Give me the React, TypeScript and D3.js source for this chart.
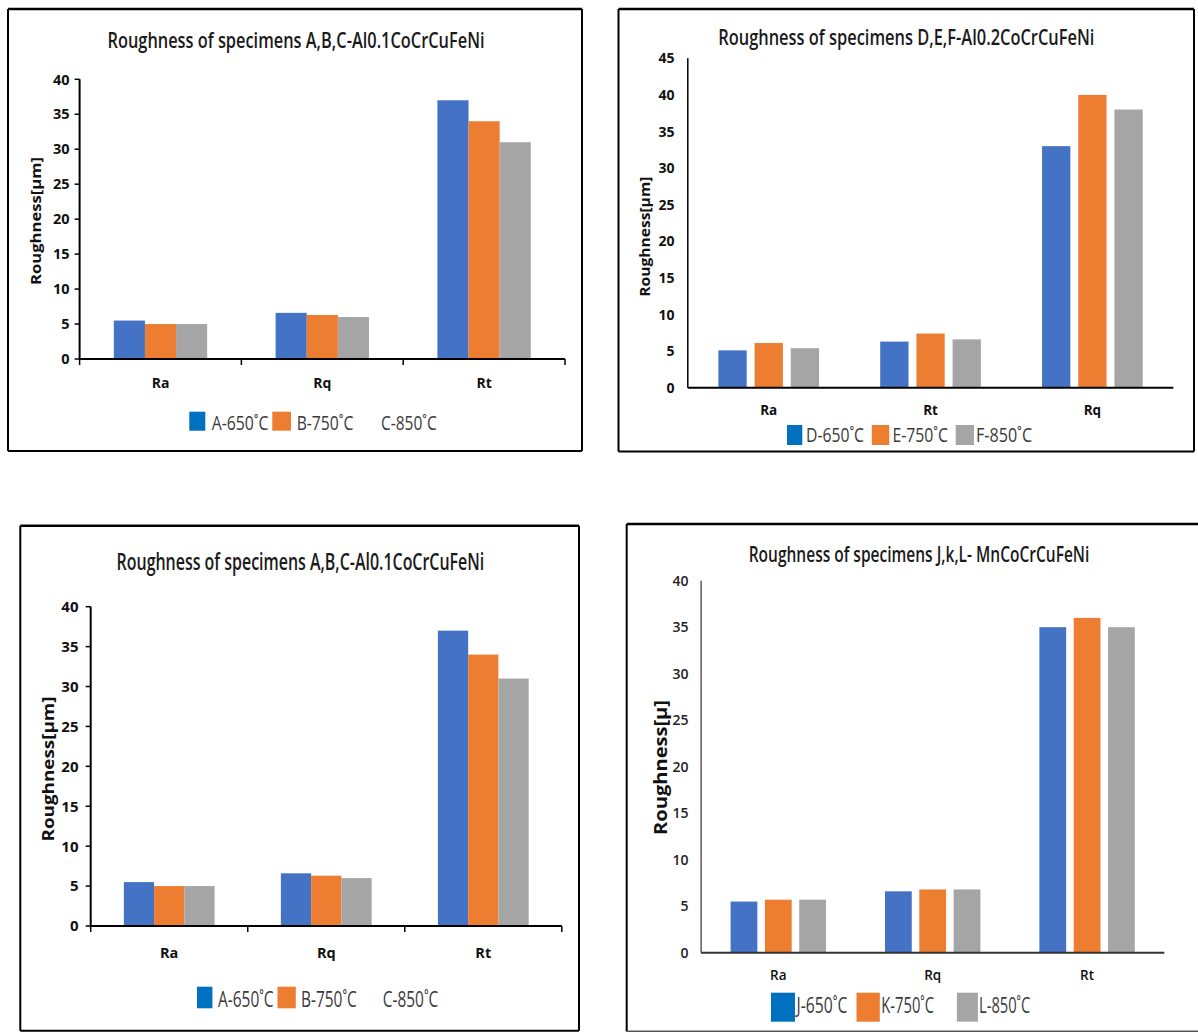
import React, { useLayoutEffect, useRef, useState } from 'react';
import * as d3 from 'd3';

// ---------- data ----------
const categoriesABC = ['Ra', 'Rq', 'Rt'];
const seriesABC = ['A-650˚C', 'B-750˚C', 'C-850˚C'];
const valuesA = [5.5, 6.6, 37];
const valuesB = [5.0, 6.3, 34];
const valuesC = [5.0, 6.0, 31];

const categoriesDEF = ['Ra', 'Rt', 'Rq'];
const seriesDEF = ['D-650˚C', 'E-750˚C', 'F-850˚C'];
const valuesD = [5.1, 6.3, 33];
const valuesE = [6.1, 7.4, 40];
const valuesF = [5.4, 6.6, 38];

const categoriesJKL = ['Ra', 'Rq', 'Rt'];
const seriesJKL = ['J-650˚C', 'K-750˚C', 'L-850˚C'];
const valuesJ = [5.5, 6.6, 35];
const valuesK = [5.7, 6.8, 36];
const valuesL = [5.7, 6.8, 35];

const ticks40 = [0, 5, 10, 15, 20, 25, 30, 35, 40];
const ticks45 = [0, 5, 10, 15, 20, 25, 30, 35, 40, 45];

const titleABC = 'Roughness of specimens A,B,C-Al0.1CoCrCuFeNi';
const titleDEF = 'Roughness of specimens D,E,F-Al0.2CoCrCuFeNi';
const titleJKL = 'Roughness of specimens J,k,L- MnCoCrCuFeNi';

const barColors = ['#4472C4', '#ED7D31', '#A5A5A5'];
const legendColorsABC = ['#0070C0', '#ED7D31', null];
const legendColorsFull = ['#0070C0', '#ED7D31', '#A5A5A5'];

const SQUEEZE = "'Open Sans', 'Noto Sans', 'Liberation Sans', sans-serif";
const BOLD = "'Open Sans', 'Liberation Sans', sans-serif";

function FitText({
  x, y, width, anchor = 'start', rotate = 0, dy, children, ...rest
}: {
  x: number; y: number; width: number; anchor?: string; rotate?: number; dy?: string;
  children: string; [k: string]: any;
}) {
  const ref = useRef<SVGTextElement>(null);
  const [k, setK] = useState(0.8);
  useLayoutEffect(() => {
    if (ref.current) {
      const n = ref.current.getComputedTextLength();
      if (n > 0) setK(width / n);
    }
  }, [width, children]);
  return (
    <text
      ref={ref}
      transform={`translate(${x},${y}) rotate(${rotate}) scale(${k},1)`}
      textAnchor={anchor}
      dy={dy}
      {...rest}
    >
      {children}
    </text>
  );
}

type Cfg = {
  frame: { x: number; y: number; w: number; h: number; right?: boolean; bottomColor?: string };
  x0: number; x1: number; yTop: number; yBottom: number; yMax: number;
  ticks: number[];
  categories: string[];
  series: string[];
  values: number[][];
  groupFrac: number;
  innerPad: number;
  tickMarks: boolean;
  axisColor: string; xAxisWidth: number; yAxisWidth: number;
  tickLabelRight: number; tickFont: number; tickWeight: number | string; tickColor: string;
  catBaseline: number; catFont: number; catWeight: number | string;
  title: string; titleX: number; titleY: number; titleLen: number; titleFont: number;
  ylabel: string; ylabelX: number; ylabelY: number; ylabelLen: number; ylabelFont: number;
  legend: { sq: [number, number] | null; text: [number, number] }[];
  legendColors: (string | null)[];
  legendSqY: number; legendSqH: number; legendBaseline: number; legendFont: number;
};

function Panel({ cfg }: { cfg: Cfg }) {
  const x = d3.scaleBand<string>().domain(cfg.categories).range([cfg.x0, cfg.x1]).paddingInner(0).paddingOuter(0);
  const y = d3.scaleLinear().domain([0, cfg.yMax]).range([cfg.yBottom, cfg.yTop]);
  const bw = x.bandwidth();
  const gw = bw * cfg.groupFrac;
  const inner = d3
    .scaleBand<string>()
    .domain(cfg.series)
    .range([0, gw])
    .paddingInner(cfg.innerPad)
    .paddingOuter(0);
  const f = cfg.frame;
  const boundaries = [...cfg.categories.map((c) => x(c) as number), cfg.x1];
  return (
    <g>
      <line x1={f.x} y1={f.y} x2={f.x + f.w} y2={f.y} stroke="#000" strokeWidth={2.5} />
      <line x1={f.x} y1={f.y} x2={f.x} y2={f.y + f.h} stroke="#000" strokeWidth={2} />
      <line x1={f.x} y1={f.y + f.h} x2={f.x + f.w} y2={f.y + f.h} stroke={f.bottomColor || '#000'} strokeWidth={2} />
      {f.right !== false && (
        <line x1={f.x + f.w} y1={f.y} x2={f.x + f.w} y2={f.y + f.h} stroke="#000" strokeWidth={2} />
      )}

      <FitText
        x={cfg.titleX}
        y={cfg.titleY}
        width={cfg.titleLen}
        anchor="middle"
        fontFamily={SQUEEZE}
        fontWeight={600}
        fontSize={cfg.titleFont}
        fill="#1a1a1a"
      >
        {cfg.title}
      </FitText>

      {cfg.categories.map((c, ci) =>
        cfg.series.map((s, si) => {
          const v = cfg.values[si][ci];
          const bx = (x(c) as number) + (bw - gw) / 2 + (inner(s) as number);
          return (
            <rect
              key={c + s}
              x={bx}
              y={y(v)}
              width={inner.bandwidth()}
              height={y(0) - y(v)}
              fill={barColors[si]}
            />
          );
        })
      )}

      <line x1={cfg.x0} y1={cfg.yTop} x2={cfg.x0} y2={cfg.yBottom} stroke={cfg.axisColor} strokeWidth={cfg.yAxisWidth} />
      {cfg.ticks.map((t) => (
        <g key={t}>
          {cfg.tickMarks && (
            <line x1={cfg.x0 - 5} x2={cfg.x0} y1={y(t)} y2={y(t)} stroke={cfg.axisColor} strokeWidth={1.5} />
          )}
          <text
            x={cfg.tickLabelRight}
            y={y(t)}
            dy="0.36em"
            textAnchor="end"
            fontFamily={BOLD}
            fontWeight={cfg.tickWeight}
            fontSize={cfg.tickFont}
            fill={cfg.tickColor}
          >
            {t}
          </text>
        </g>
      ))}

      <line x1={cfg.x0} y1={cfg.yBottom} x2={cfg.x1} y2={cfg.yBottom} stroke={cfg.axisColor} strokeWidth={cfg.xAxisWidth} />
      {cfg.tickMarks &&
        boundaries.map((b, i) => (
          <line key={i} x1={b} x2={b} y1={cfg.yBottom} y2={cfg.yBottom + 6} stroke={cfg.axisColor} strokeWidth={1.5} />
        ))}
      {cfg.categories.map((c) => (
        <text
          key={c}
          x={(x(c) as number) + bw / 2}
          y={cfg.catBaseline}
          textAnchor="middle"
          fontFamily={BOLD}
          fontWeight={cfg.catWeight}
          fontSize={cfg.catFont}
          fill="#111"
        >
          {c}
        </text>
      ))}

      <FitText
        x={cfg.ylabelX}
        y={cfg.ylabelY}
        width={cfg.ylabelLen}
        rotate={-90}
        anchor="middle"
        dy="0.36em"
        fontFamily={BOLD}
        fontWeight="bold"
        fontSize={cfg.ylabelFont}
        fill="#111"
      >
        {cfg.ylabel}
      </FitText>

      {cfg.legend.map((l, i) => (
        <g key={i}>
          {l.sq && cfg.legendColors[i] && (
            <rect
              x={l.sq[0]}
              y={cfg.legendSqY}
              width={l.sq[1] - l.sq[0]}
              height={cfg.legendSqH}
              fill={cfg.legendColors[i] as string}
            />
          )}
          <FitText
            x={l.text[0]}
            y={cfg.legendBaseline}
            width={l.text[1] - l.text[0]}
            fontFamily={SQUEEZE}
            fontSize={cfg.legendFont}
            fill="#3a3a3a"
          >
            {cfg.series[i]}
          </FitText>
        </g>
      ))}
    </g>
  );
}

const panel1: Cfg = {
  frame: { x: 8, y: 9, w: 574, h: 442 },
  x0: 79.6, x1: 565, yTop: 79.3, yBottom: 359, yMax: 40,
  ticks: ticks40,
  categories: categoriesABC, series: seriesABC, values: [valuesA, valuesB, valuesC],
  groupFrac: 0.577, innerPad: 0,
  tickMarks: true, axisColor: '#000', xAxisWidth: 2, yAxisWidth: 2,
  tickLabelRight: 69.5, tickFont: 14.5, tickWeight: 'bold', tickColor: '#111',
  catBaseline: 388, catFont: 14, catWeight: 'bold',
  title: titleABC, titleX: 296, titleY: 48, titleLen: 377, titleFont: 22,
  ylabel: 'Roughness[µm]', ylabelX: 36, ylabelY: 221, ylabelLen: 128, ylabelFont: 14,
  legend: [
    { sq: [189.3, 205.3], text: [211.7, 268.3] },
    { sq: [272.3, 291], text: [296.7, 353.3] },
    { sq: null, text: [381, 436.7] },
  ],
  legendColors: legendColorsABC,
  legendSqY: 411.7, legendSqH: 19, legendBaseline: 429.5, legendFont: 19.5,
};

const panel2: Cfg = {
  frame: { x: 618.5, y: 9, w: 575.5, h: 442.5 },
  x0: 687.8, x1: 1173.3, yTop: 58.3, yBottom: 387.7, yMax: 45,
  ticks: ticks45,
  categories: categoriesDEF, series: seriesDEF, values: [valuesD, valuesE, valuesF],
  groupFrac: 0.622, innerPad: 0.218,
  tickMarks: false, axisColor: '#000', xAxisWidth: 2, yAxisWidth: 1.5,
  tickLabelRight: 674.5, tickFont: 14, tickWeight: 'bold', tickColor: '#111',
  catBaseline: 415, catFont: 13.5, catWeight: 'bold',
  title: titleDEF, titleX: 906.3, titleY: 45, titleLen: 376, titleFont: 22,
  ylabel: 'Roughness[µm]', ylabelX: 645, ylabelY: 236.7, ylabelLen: 120, ylabelFont: 14,
  legend: [
    { sq: [787, 802.3], text: [806, 864] },
    { sq: [871.8, 889.3], text: [892.4, 948] },
    { sq: [955.7, 974], text: [976, 1032] },
  ],
  legendColors: legendColorsFull,
  legendSqY: 425, legendSqH: 20, legendBaseline: 441.5, legendFont: 19.5,
};

const panel3: Cfg = {
  frame: { x: 20.3, y: 525.7, w: 558.7, h: 505 },
  x0: 90.7, x1: 561.8, yTop: 606.7, yBottom: 926, yMax: 40,
  ticks: ticks40,
  categories: categoriesABC, series: seriesABC, values: [valuesA, valuesB, valuesC],
  groupFrac: 0.578, innerPad: 0,
  tickMarks: true, axisColor: '#000', xAxisWidth: 2, yAxisWidth: 2,
  tickLabelRight: 78.5, tickFont: 15, tickWeight: 'bold', tickColor: '#111',
  catBaseline: 958.3, catFont: 14.5, catWeight: 'bold',
  title: titleABC, titleX: 300.4, titleY: 570, titleLen: 367.4, titleFont: 22.5,
  ylabel: 'Roughness[µm]', ylabelX: 47.8, ylabelY: 769, ylabelLen: 145, ylabelFont: 16,
  legend: [
    { sq: [197, 212.4], text: [218, 273.6] },
    { sq: [277.5, 295.8], text: [301, 356.7] },
    { sq: null, text: [382.7, 438.2] },
  ],
  legendColors: legendColorsABC,
  legendSqY: 986.7, legendSqH: 21.6, legendBaseline: 1006.5, legendFont: 22,
};

const panel4: Cfg = {
  frame: { x: 626.7, y: 524, w: 580, h: 507.5, right: false, bottomColor: '#555' },
  x0: 701.1, x1: 1164.3, yTop: 580.7, yBottom: 952.7, yMax: 40,
  ticks: ticks40,
  categories: categoriesJKL, series: seriesJKL, values: [valuesJ, valuesK, valuesL],
  groupFrac: 0.618, innerPad: 0.22,
  tickMarks: false, axisColor: '#333', xAxisWidth: 2, yAxisWidth: 1.2,
  tickLabelRight: 688.5, tickFont: 14, tickWeight: 600, tickColor: '#222',
  catBaseline: 980, catFont: 13.5, catWeight: 600,
  title: titleJKL, titleX: 919, titleY: 561.7, titleLen: 340.5, titleFont: 21.5,
  ylabel: 'Roughness[µ]', ylabelX: 661, ylabelY: 767.5, ylabelLen: 135, ylabelFont: 18,
  legend: [
    { sq: [771, 795], text: [796.6, 847.3] },
    { sq: [856.5, 879.8], text: [881.3, 934] },
    { sq: [956.9, 977.9], text: [979, 1030.2] },
  ],
  legendColors: legendColorsFull,
  legendSqY: 992.7, legendSqH: 29, legendBaseline: 1012.5, legendFont: 21,
};

export default function App() {
  return (
    <svg
      width={1198}
      height={1032}
      viewBox="0 0 1198 1032"
      style={{ position: 'absolute', left: 0, top: 0, background: '#fff' }}
    >
      <rect x={0} y={0} width={1198} height={1032} fill="#fff" />
      <Panel cfg={panel1} />
      <Panel cfg={panel2} />
      <Panel cfg={panel3} />
      <Panel cfg={panel4} />
    </svg>
  );
}
